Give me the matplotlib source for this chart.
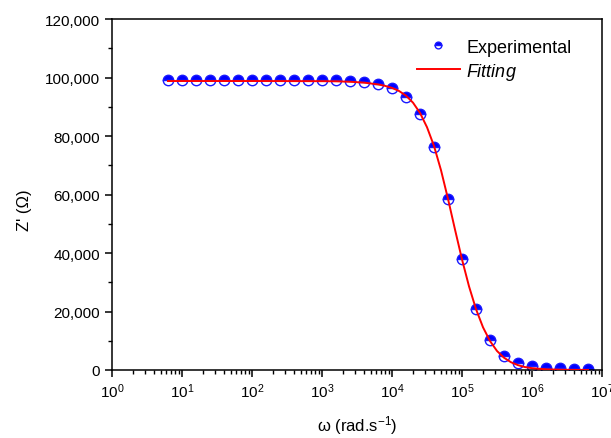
import math
import matplotlib
matplotlib.use("Agg")
import matplotlib.pyplot as plt
from matplotlib.ticker import FuncFormatter, MultipleLocator, LogLocator, NullFormatter

plt.rcParams['font.family'] = ['Liberation Sans', 'DejaVu Sans']
plt.rcParams['mathtext.fontset'] = 'custom'
plt.rcParams['mathtext.rm'] = 'Liberation Sans'
plt.rcParams['mathtext.it'] = 'Liberation Sans:italic'

# experimental points (rad/s, ohm)
omega = [6.31, 10, 15.85, 25.12, 39.81, 63.1, 100, 158.5, 251.2, 398.1, 631,
         1000, 1585, 2512, 3981, 6310, 1.0e4, 1.585e4, 2.512e4, 3.981e4,
         6.31e4, 1.0e5, 1.585e5, 2.512e5, 3.981e5, 6.31e5, 1.0e6, 1.585e6,
         2.512e6, 3.981e6, 6.31e6]
z_exp = [99300, 99300, 99300, 99300, 99300, 99300, 99300, 99300, 99300, 99300,
         99300, 99250, 99200, 98900, 98400, 97900, 96500, 93300, 87400, 76300,
         58600, 38000, 20900, 10300, 4800, 2300, 1250, 800, 550, 350, 250]

# fitted curve
fit_w = [6.31, 10, 100, 1000, 1585, 2512, 3981, 6310, 7943, 1.0e4, 1.259e4,
         1.585e4, 1.995e4, 2.512e4, 3.162e4, 3.981e4, 5.012e4, 6.31e4, 7.943e4,
         1.0e5, 1.259e5, 1.585e5, 1.995e5, 2.512e5, 3.162e5, 3.981e5, 5.012e5,
         6.31e5, 7.943e5, 1.0e6, 1.585e6, 2.512e6, 3.981e6, 6.31e6]
fit_z = [98800, 98800, 98800, 98750, 98700, 98550, 98250, 97650, 97150, 96450,
         95400, 93800, 91400, 87900, 83000, 76600, 68300, 58500, 48000, 37800,
         28600, 20800, 14600, 9900, 6500, 4200, 2650, 1650, 1000, 620, 240,
         90, 35, 15]

fig = plt.figure(figsize=(6.11, 4.39), dpi=100)
ax = fig.add_axes([0.1833, 0.1549, 0.8020, 0.7995])

ax.plot(omega, z_exp, 'o', ls='none', ms=7.5, color='blue', mec='#1a1aff',
        mfc='blue', mfcalt='white', fillstyle='top', mew=1.0,
        label='Experimental', zorder=2)
ax.plot(fit_w, fit_z, '-', color='red', lw=1.4, label='$\\it{Fitting}$', zorder=3)

ax.set_xscale('log')
ax.set_xlim(1, 1e7)
ax.set_ylim(0, 120000)
ax.xaxis.set_major_locator(LogLocator(base=10, numticks=10))
ax.xaxis.set_minor_locator(LogLocator(base=10, subs=range(2, 10), numticks=20))
ax.xaxis.set_minor_formatter(NullFormatter())
ax.xaxis.set_major_formatter(FuncFormatter(lambda v, p: '$10^{%d}$' % round(math.log10(v))))
ax.yaxis.set_major_locator(MultipleLocator(20000))
ax.yaxis.set_minor_locator(MultipleLocator(10000))
ax.yaxis.set_major_formatter(FuncFormatter(lambda v, p: '{:,.0f}'.format(v)))

ax.tick_params(which='major', direction='out', length=5, width=1.1, labelsize=11, colors='black')
ax.tick_params(which='minor', direction='out', length=3, width=1.0)
for s in ax.spines.values():
    s.set_linewidth(1.1)

ax.set_xlabel('ω (rad.s$^{-1}$)', fontsize=12, labelpad=9)
ax.set_ylabel("Z' (Ω)", fontsize=12)
ax.yaxis.set_label_coords(-0.163, 0.457)

ax.legend(loc='upper right', bbox_to_anchor=(0.96, 0.975), frameon=False, fontsize=13,
          markerscale=0.65, handlelength=2.4, handletextpad=0.35, labelspacing=0.28,
          borderaxespad=0.2)

fig.savefig('out.png', dpi=100)
